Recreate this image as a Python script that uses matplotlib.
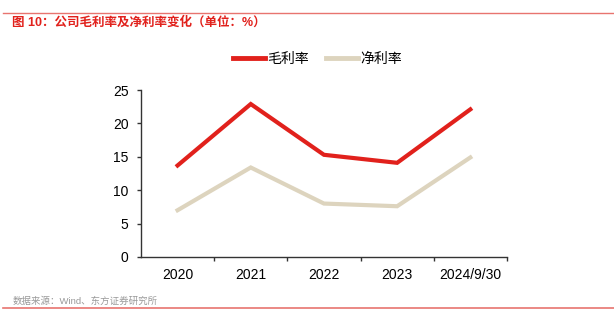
"""Gross and net margin chart (figure 10)."""

import matplotlib
matplotlib.use("Agg")
import matplotlib.pyplot as plt
from matplotlib.lines import Line2D

plt.rcParams["font.family"] = ["Liberation Sans", "Noto Sans CJK SC", "DejaVu Sans"]

categories = ["2020", "2021", "2022", "2023", "2024/9/30"]
gross_margin = [13.7, 22.9, 15.3, 14.1, 22.1]
net_margin = [7.0, 13.4, 8.0, 7.6, 14.9]
y_ticks = [0, 5, 10, 15, 20, 25]

RED = "#E1211C"
BEIGE = "#DDD4BE"

fig = plt.figure(figsize=(6.14, 3.24), dpi=100)
ax = fig.add_axes([0.2296, 0.2068, 0.596, 0.5154])

x = list(range(len(categories)))
ax.plot(x, gross_margin, color=RED, lw=3, solid_joinstyle="miter", label="毛利率")
ax.plot(x, net_margin, color=BEIGE, lw=3, solid_joinstyle="miter", label="净利率")

ax.set_xlim(-0.5, len(categories) - 0.5)
ax.set_ylim(0, 25)
ax.set_yticks(y_ticks)
ax.set_xticks(x)
ax.set_xticklabels(categories)
ax.set_xticks([i + 0.5 for i in x], minor=True)
ax.tick_params(axis="x", which="major", length=0, pad=8, labelsize=10)
ax.tick_params(axis="x", which="minor", length=3, width=1, color="#333333", direction="out")
ax.tick_params(axis="y", length=3, width=1, color="#333333", labelsize=10, pad=6)
for side in ("top", "right"):
    ax.spines[side].set_visible(False)
for side in ("left", "bottom"):
    ax.spines[side].set_color("#333333")
    ax.spines[side].set_linewidth(1)

handles = [Line2D([], [], color=RED, lw=3.5), Line2D([], [], color=BEIGE, lw=3.5)]
fig.legend(handles, ["毛利率", "净利率"], loc="center", bbox_to_anchor=(0.517, 0.818),
           ncol=2, frameon=False, fontsize=10, handlelength=2.3, handletextpad=0.2,
           columnspacing=1.2)

# header / footer decorations
fig.add_artist(Line2D([0.005, 1.0], [0.959, 0.959], color="#E8746F", lw=1))
fig.text(0.02, 0.93, "图 10：公司毛利率及净利率变化（单位：%）", color=RED,
         fontsize=9, fontweight="bold", va="center", ha="left")
fig.text(0.02, 0.072, "数据来源：Wind、东方证券研究所", color="#999999",
         fontsize=6.8, va="center", ha="left")
fig.add_artist(Line2D([0.005, 1.0], [0.048, 0.048], color="#E8746F", lw=1.2))

fig.savefig("out.png", dpi=100)
